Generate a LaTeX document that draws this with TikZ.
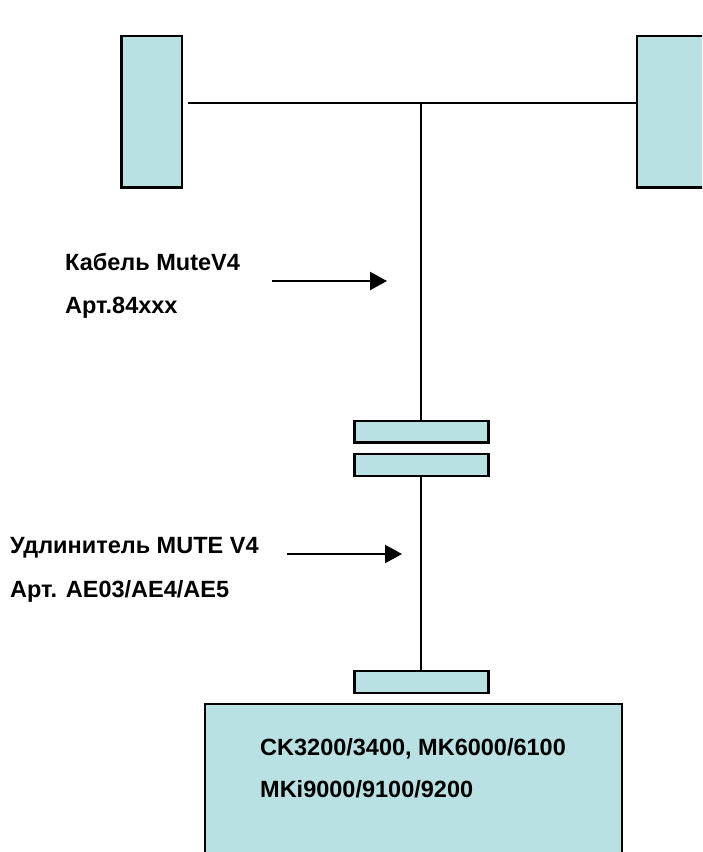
\documentclass[tikz,border=0pt]{standalone}
\usepackage{fontspec}
\setmainfont{Liberation Sans}
\usetikzlibrary{arrows.meta}
\definecolor{boxfill}{HTML}{B9E0E2}
\tikzset{
  px/.style={x=1pt,y=-1pt},
  boxa/.style={draw=black,line width=2.2pt,fill=boxfill,inner sep=0pt,outer sep=0pt,anchor=north west},
  wire/.style={line width=2.2pt,draw=black},
  pointer/.style={line width=2.2pt,draw=black,-{Triangle[length=17pt,width=18pt]}},
  lab/.style={font=\bfseries\fontsize{23.5pt}{28pt}\selectfont,anchor=base west,inner sep=0pt}
}
\begin{document}
\begin{tikzpicture}[px]
\useasboundingbox (0,0) rectangle (702,852);
\clip (0,0) rectangle (702,852);
\node[boxa,minimum width=60.5pt,minimum height=151.5pt] (l) at (121.5,36) {};
\node[boxa,minimum width=70pt,minimum height=151.5pt] (r) at (637,36) {};
\node[boxa,minimum width=134pt,minimum height=21.5pt] (c1) at (354.5,421) {};
\node[boxa,minimum width=134pt,minimum height=22pt] (c2) at (354.5,454) {};
\node[boxa,minimum width=134pt,minimum height=22pt] (c3) at (354.5,671) {};
\node[boxa,minimum width=417pt,minimum height=160pt] (m) at (205,704) {};
\coordinate (jn) at (421.3,103.3);
\coordinate (ls) at (187.5,103.3);
\draw[wire] (ls) -- (r.west |- ls);
\draw[wire] (jn) -- (c1.north -| jn);
\draw[wire] (c2.south -| jn) -- (c3.north -| jn);
\coordinate (a1s) at (272,281); \coordinate (a1e) at (387,281);
\coordinate (a2s) at (287,554); \coordinate (a2e) at (402,554);
\draw[pointer] (a1s) -- (a1e);
\draw[pointer] (a2s) -- (a2e);
\node[lab] (t1) at (65,270.7) {Кабель MuteV4};
\node[lab] (t2) at (65,313) {Арт.84xxx};
\node[lab] (t3) at (10,553) {Удлинитель MUTE V4};
\node[lab] (t4) at (10,597) {Арт. AE03/AE4/AE5};
\node[lab] (t5) at (260,755) {CK3200/3400, MK6000/6100};
\node[lab] (t6) at (260,797.7) {MKi9000/9100/9200};
\end{tikzpicture}
\end{document}
